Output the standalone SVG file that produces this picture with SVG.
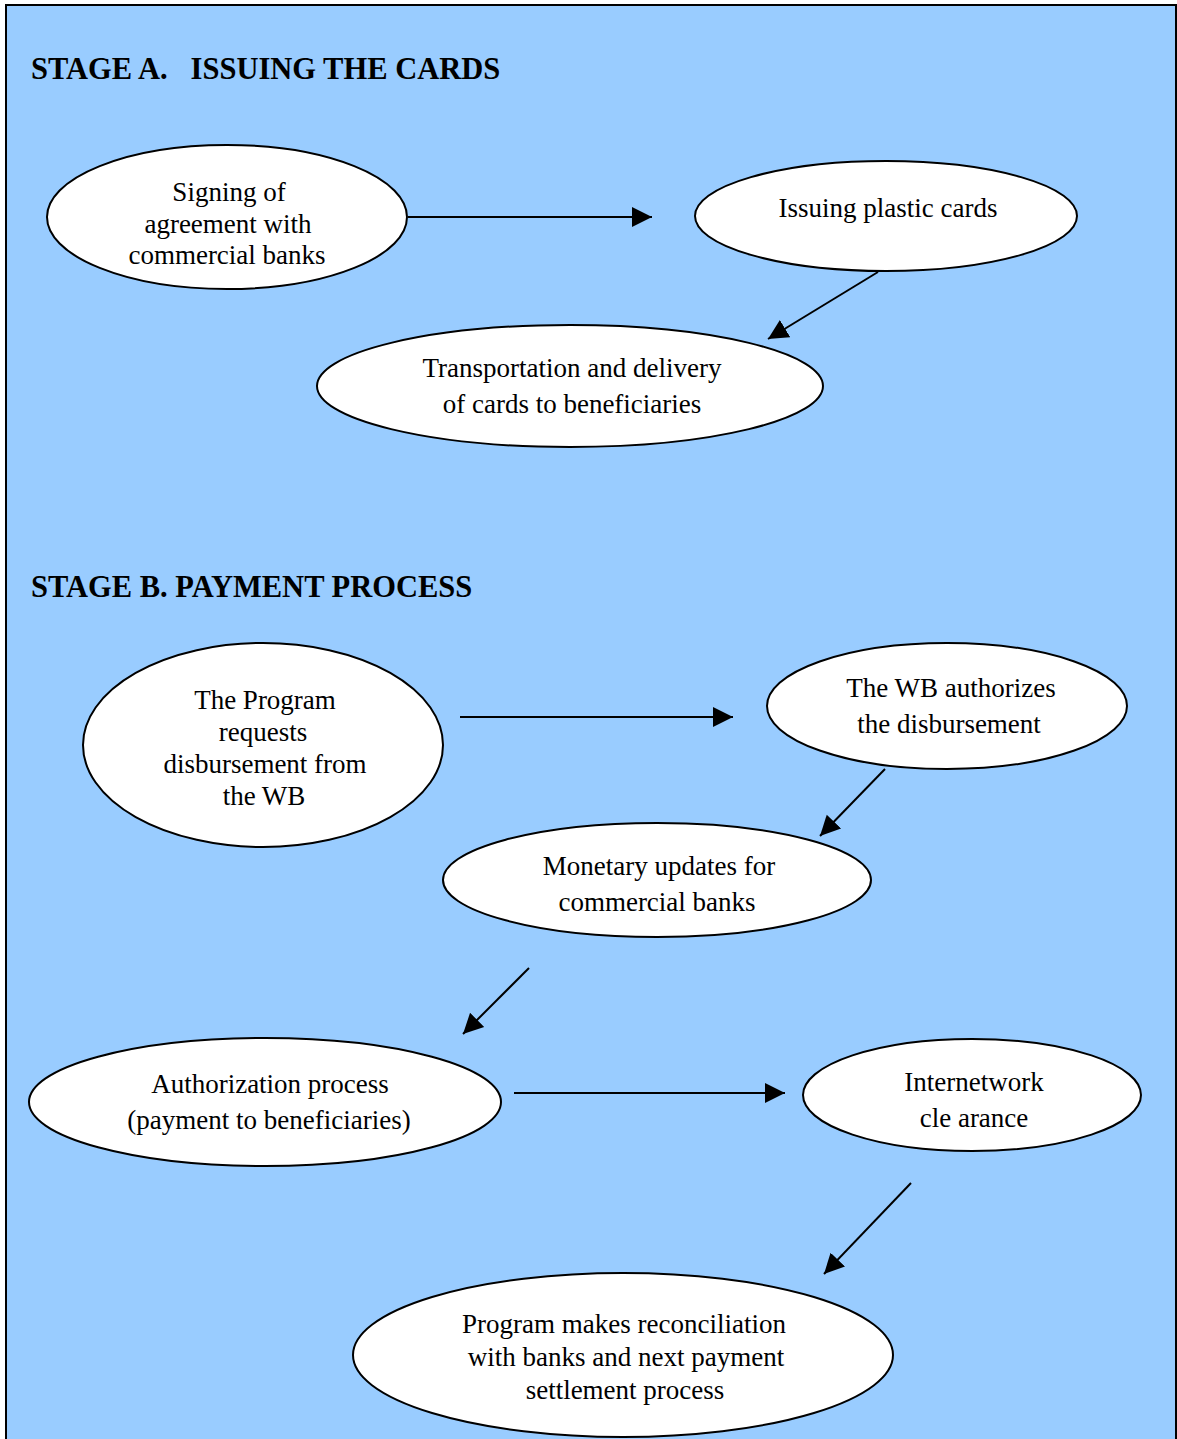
<svg xmlns="http://www.w3.org/2000/svg" width="1177" height="1439" viewBox="0 0 1177 1439">
<defs>
<style>
.bg{fill:#99CCFF;stroke:#000;stroke-width:2}
.n ellipse{fill:#fff;stroke:#000;stroke-width:2}
.n text{font-family:"Liberation Serif","Times New Roman",serif;font-size:27px;fill:#000;text-anchor:middle}
.h{font-family:"Liberation Serif","Times New Roman",serif;font-size:30.5px;font-weight:bold;fill:#000}
.c line{stroke:#000;stroke-width:2;marker-end:url(#ah)}
</style>
<marker id="ah" markerUnits="userSpaceOnUse" markerWidth="22" markerHeight="22" viewBox="0 0 22 22" refX="20" refY="11" orient="auto">
<path d="M0,1 L20,11 L0,21 Z" fill="#000"/>
</marker>
</defs>
<rect class="bg" x="6" y="5" width="1170" height="1450"/>
<text class="h" x="31" y="79" xml:space="preserve">STAGE A.   ISSUING THE CARDS</text>
<text class="h" x="31" y="597">STAGE B. PAYMENT PROCESS</text>
<g id="n1" class="n"><ellipse cx="227" cy="217" rx="180" ry="72"/><text x="229" y="201">Signing of</text><text x="228" y="233">agreement with</text><text x="227" y="264">commercial banks</text></g>
<g id="n2" class="n"><ellipse cx="886" cy="216" rx="191" ry="55"/><text x="888" y="217">Issuing plastic cards</text></g>
<g id="n3" class="n"><ellipse cx="570" cy="386" rx="253" ry="61"/><text x="572" y="377">Transportation and delivery</text><text x="572" y="413">of cards to beneficiaries</text></g>
<g id="n4" class="n"><ellipse cx="263" cy="745" rx="180" ry="102"/><text x="265" y="709">The Program</text><text x="263" y="741">requests</text><text x="265" y="773">disbursement from</text><text x="264" y="805">the WB</text></g>
<g id="n5" class="n"><ellipse cx="947" cy="706" rx="180" ry="63"/><text x="951" y="697">The WB authorizes</text><text x="949" y="733">the disbursement</text></g>
<g id="n6" class="n"><ellipse cx="657" cy="880" rx="214" ry="57"/><text x="659" y="875">Monetary updates for</text><text x="657" y="911">commercial banks</text></g>
<g id="n7" class="n"><ellipse cx="265" cy="1102" rx="236" ry="64"/><text x="270" y="1093">Authorization process</text><text x="269" y="1129">(payment to beneficiaries)</text></g>
<g id="n8" class="n"><ellipse cx="972" cy="1095" rx="169" ry="56"/><text x="974" y="1091">Internetwork</text><text x="974" y="1127">cle arance</text></g>
<g id="n9" class="n"><ellipse cx="623" cy="1355" rx="270" ry="82"/><text x="624" y="1333">Program makes reconciliation</text><text x="626" y="1366">with banks and next payment</text><text x="625" y="1399">settlement process</text></g>
<g id="connectors" class="c">
<line x1="408" y1="217" x2="652" y2="217"/>
<line x1="878" y1="272" x2="768" y2="339"/>
<line x1="460" y1="717" x2="733" y2="717"/>
<line x1="885" y1="769" x2="820" y2="836"/>
<line x1="529" y1="968" x2="463" y2="1034"/>
<line x1="514" y1="1093" x2="785" y2="1093"/>
<line x1="911" y1="1183" x2="824" y2="1274"/>
</g>
</svg>
